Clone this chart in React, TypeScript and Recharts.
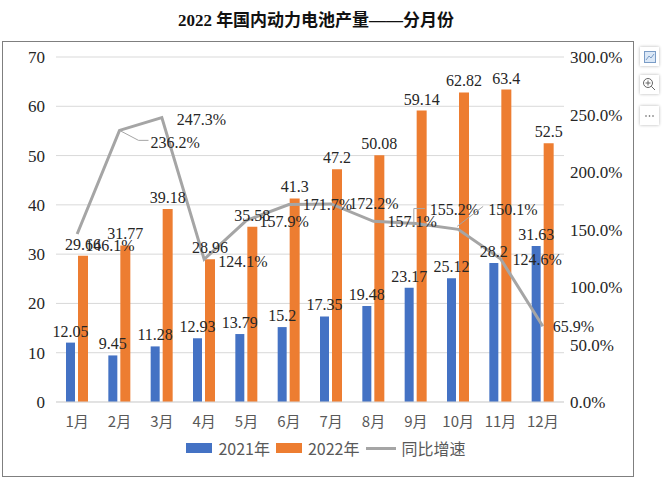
import React from 'react';
import { ComposedChart, Bar, Line, XAxis, YAxis, CartesianGrid, LabelList } from 'recharts';

const months = ['1月', '2月', '3月', '4月', '5月', '6月', '7月', '8月', '9月', '10月', '11月', '12月'];
const prod2021 = [12.05, 9.45, 11.28, 12.93, 13.79, 15.2, 17.35, 19.48, 23.17, 25.12, 28.2, 31.63];
const prod2022 = [29.66, 31.77, 39.18, 28.96, 35.58, 41.3, 47.2, 50.08, 59.14, 62.82, 63.4, 52.5];
const growth = [146.1, 236.2, 247.3, 124.1, 157.9, 171.7, 172.2, 157.1, 155.2, 150.1, 124.6, 65.9];
const leftTicks = [0, 10, 20, 30, 40, 50, 60, 70];
const rightTicks = [0, 50, 100, 150, 200, 250, 300];
const seriesNames = ['2021年', '2022年', '同比增速'];
const title = '2022 年国内动力电池产量——分月份';

const data = months.map((m, i) => ({ month: m, a: prod2021[i], b: prod2022[i], g: growth[i] }));

const BLUE = '#4472C4';
const ORANGE = '#ED7D31';
const GRAY = '#A5A5A5';
const SERIF = "'Liberation Serif', 'Times New Roman', 'Noto Sans CJK SC', serif";
const SANS = "'Noto Sans CJK SC', 'Noto Sans', sans-serif";

// label placement (style): [dx of text left edge from point, dy of text centre]
const lineLabelOffsets: [number, number][] = [
  [8, 12], [31, 12], [15, 2], [14, 2], [13, 1], [14, 0],
  [18, 0], [14, 0], [14, -14], [30, -20], [12, 1], [10, 0],
];

const GrowthLabel = (props: any) => {
  const { x, y, value, index } = props;
  const [dx, dy] = lineLabelOffsets[index] || [12, 0];
  let leader: string | null = null;
  if (index === 1) leader = `M${x},${y} L${x + 19},${y + 10} L${x + 29},${y + 10}`;
  if (index === 8) leader = `M${x - 2},${y + 3} L${x - 2},${y - 15} L${x + 9},${y - 15}`;
  if (index === 9) leader = `M${x - 1},${y - 3} L${x + 25},${y - 23}`;
  return (
    <g>
      {leader && <path d={leader} stroke={GRAY} strokeWidth={1} fill="none" />}
      <text
        x={x + dx}
        y={y + dy}
        textAnchor="start"
        dominantBaseline="central"
        style={{ fontFamily: SERIF, fontSize: 16 }}
        fill="#262626"
      >
        {`${Number(value).toFixed(1)}%`}
      </text>
    </g>
  );
};

const BarLabel = (props: any) => {
  const { x, y, width, value } = props;
  return (
    <text
      x={x + width / 2}
      y={y - 6}
      textAnchor="middle"
      style={{ fontFamily: SERIF, fontSize: 16 }}
      fill="#262626"
    >
      {value}
    </text>
  );
};

const iconBox: React.CSSProperties = {
  position: 'absolute',
  left: 640,
  width: 19,
  height: 19,
  background: '#fff',
  boxShadow: '0 0 3px rgba(0,0,0,0.3)',
  display: 'flex',
  alignItems: 'center',
  justifyContent: 'center',
};

export default function App() {
  return (
    <div style={{ position: 'absolute', left: 0, top: 0, width: 668, height: 482, background: '#fff', fontFamily: SERIF }}>
      <div
        style={{
          position: 'absolute',
          left: 0,
          top: 6,
          width: 632,
          textAlign: 'center',
          fontFamily: SERIF,
          fontWeight: 'bold',
          fontSize: 17,
          color: '#111',
        }}
      >
        {title}
      </div>
      <div
        style={{
          position: 'absolute',
          left: 2,
          top: 41,
          width: 630,
          height: 434,
          border: '1px solid #7f7f7f',
        }}
      />
      <div style={{ position: 'absolute', left: 0, top: 0, fontFamily: SERIF }}>
        <ComposedChart
          width={668}
          height={482}
          data={data}
          margin={{ top: 57, right: 44, bottom: 50, left: 6 }}
          barGap={3}
          style={{ fontFamily: SERIF }}
        >
          <CartesianGrid yAxisId="left" vertical={false} stroke="#D9D9D9" />
          <XAxis
            dataKey="month"
            axisLine={{ stroke: '#D9D9D9' }}
            tickLine={false}
            tickMargin={8}
            height={30}
            tick={{ fontSize: 15, fill: '#595959', style: { fontFamily: SANS } }}
          />
          <YAxis
            yAxisId="left"
            domain={[0, 70]}
            ticks={leftTicks}
            width={50}
            axisLine={false}
            tickLine={false}
            tickMargin={5}
            tick={{ fontSize: 17, fill: '#262626', style: { fontFamily: SERIF } }}
          />
          <YAxis
            yAxisId="right"
            orientation="right"
            domain={[0, 300]}
            ticks={rightTicks}
            width={60}
            axisLine={false}
            tickLine={false}
            tickMargin={0}
            tickFormatter={(v: number) => `${v.toFixed(1)}%`}
            tick={{ fontSize: 17, fill: '#262626', textAnchor: 'start', style: { fontFamily: SERIF } }}
          />
          <Bar yAxisId="left" dataKey="a" name={seriesNames[0]} fill={BLUE} barSize={9} isAnimationActive={false}>
            <LabelList dataKey="a" content={BarLabel} />
          </Bar>
          <Bar yAxisId="left" dataKey="b" name={seriesNames[1]} fill={ORANGE} barSize={10} isAnimationActive={false}>
            <LabelList dataKey="b" content={BarLabel} />
          </Bar>
          <Line
            yAxisId="right"
            dataKey="g"
            name={seriesNames[2]}
            stroke={GRAY}
            strokeWidth={3}
            dot={false}
            activeDot={false}
            type="linear"
            isAnimationActive={false}
          >
            <LabelList dataKey="g" content={GrowthLabel} />
          </Line>
        </ComposedChart>
      </div>
      <div
        style={{
          position: 'absolute',
          left: 0,
          top: 437,
          width: 652,
          display: 'flex',
          justifyContent: 'center',
          alignItems: 'center',
          fontFamily: SANS,
          fontSize: 16,
          color: '#595959',
          lineHeight: '22px',
        }}
      >
        <span style={{ display: 'inline-block', width: 26, height: 10, background: BLUE, marginRight: 6 }} />
        <span style={{ marginRight: 6 }}>{seriesNames[0]}</span>
        <span style={{ display: 'inline-block', width: 26, height: 10, background: ORANGE, marginRight: 6 }} />
        <span style={{ marginRight: 6 }}>{seriesNames[1]}</span>
        <span style={{ display: 'inline-block', width: 30, height: 3, background: GRAY, marginRight: 6 }} />
        <span>{seriesNames[2]}</span>
      </div>
      <div style={{ ...iconBox, top: 47 }}>
        <svg width={14} height={14}>
          <rect x={1.5} y={1.5} width={11} height={11} fill="#dbe8f7" stroke="#7a9cc6" />
          <path d="M3,10 L6,6 L8,8 L11,4" stroke="#7a9cc6" fill="none" />
        </svg>
      </div>
      <div style={{ ...iconBox, top: 75 }}>
        <svg width={15} height={15}>
          <circle cx={6} cy={6} r={4.5} fill="none" stroke="#666" />
          <path d="M6,3.5 V8.5 M3.5,6 H8.5 M9.3,9.3 L13,13" stroke="#666" />
        </svg>
      </div>
      <div style={{ ...iconBox, top: 106 }}>
        <svg width={15} height={15}>
          <circle cx={4} cy={8} r={0.8} fill="#555" />
          <circle cx={7.5} cy={8} r={0.8} fill="#555" />
          <circle cx={11} cy={8} r={0.8} fill="#555" />
        </svg>
      </div>
    </div>
  );
}
